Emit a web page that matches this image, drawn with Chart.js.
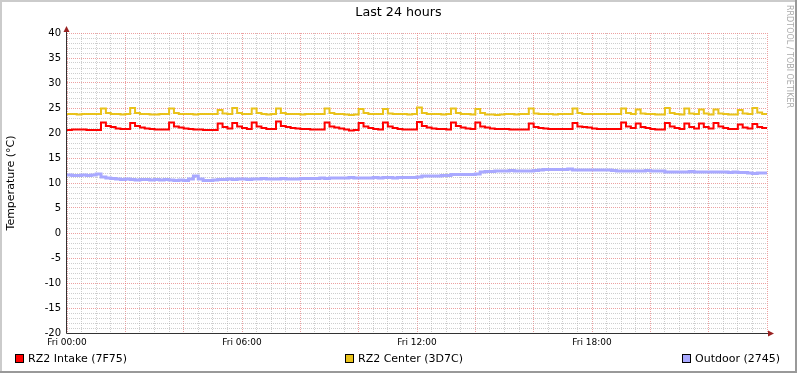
<!DOCTYPE html>
<html>
<head>
<meta charset="utf-8">
<script src="https://cdn.jsdelivr.net/npm/chart.js@4"></script>
<style>
  html, body { margin: 0; padding: 0; background: #fff; }
</style>
</head>
<body>
<canvas id="chart" width="797" height="373"></canvas>
<script>
// 10 minute samples, Fri 00:00 .. Sat 00:00
const red = [
  20.6, 20.7, 20.7, 20.7, 20.6, 20.6, 20.6,
  22.1, 21.4, 21.2, 20.9, 20.8, 20.8,
  22.0, 21.4, 21.1, 20.9, 20.8, 20.7, 20.7, 20.7,
  22.1, 21.3, 21.1, 20.9, 20.8, 20.7, 20.7, 20.6, 20.6, 20.6,
  21.9, 21.2, 20.9,
  22.0, 21.3, 21.0, 20.8,
  22.1, 21.3, 21.0, 20.8, 20.8,
  22.3, 21.4, 21.2, 21.0, 20.9, 20.8, 20.8, 20.7, 20.7, 20.7,
  22.1, 21.3, 21.1, 20.9, 20.7, 20.5, 20.6,
  22.0, 21.3, 21.0, 20.8, 20.7,
  22.1, 21.3, 21.0, 20.8, 20.7, 20.7, 20.7,
  22.2, 21.4, 21.1, 20.9, 20.8, 20.8, 20.7,
  22.1, 21.4, 21.1, 20.9, 20.8,
  22.1, 21.3, 21.1, 20.9, 20.8, 20.8, 20.8, 20.7, 20.7, 20.7, 20.7,
  21.9, 21.2, 21.0, 20.9, 20.8, 20.8, 20.8, 20.8, 20.8,
  22.0, 21.3, 21.2, 21.1, 20.9, 20.8, 20.8, 20.8, 20.8, 20.8,
  22.1, 21.3, 21.0,
  21.9, 21.2, 21.0, 20.8, 20.7, 20.7,
  22.0, 21.3, 21.0, 20.8,
  21.9, 21.2, 20.9,
  21.9, 21.2, 20.9,
  22.0, 21.3, 21.0, 20.8, 20.8,
  21.7, 21.1, 20.9,
  21.8, 21.2, 21.0, 20.8
];
const yellow = [
  23.8, 23.8, 23.7, 23.8, 23.8, 23.8, 23.8,
  24.9, 24.0, 23.8, 23.8, 23.7, 23.8,
  25.0, 24.0, 23.8, 23.8, 23.7, 23.7, 23.8, 23.8,
  24.9, 24.0, 23.8, 23.8, 23.8, 23.7, 23.8, 23.8, 23.8, 23.8,
  24.6, 23.9, 23.8,
  25.0, 24.0, 23.8, 23.8,
  24.9, 24.0, 23.8, 23.7, 23.8,
  24.9, 24.0, 23.8, 23.8, 23.8, 23.7, 23.8, 23.8, 23.8, 23.8,
  24.9, 24.0, 23.8, 23.8, 23.7, 23.6, 23.7,
  24.8, 24.0, 23.8, 23.8, 23.8,
  24.8, 23.9, 23.8, 23.8, 23.8, 23.7, 23.8,
  25.1, 24.0, 23.8, 23.8, 23.8, 23.7, 23.8,
  24.9, 24.0, 23.8, 23.8, 23.7,
  24.8, 24.0, 23.7, 23.7, 23.6, 23.7, 23.8, 23.8, 23.7, 23.8, 23.8,
  24.9, 23.9, 23.8, 23.8, 23.8, 23.7, 23.8, 23.8, 23.8,
  24.9, 24.0, 23.8, 23.8, 23.8, 23.8, 23.8, 23.8, 23.8, 23.8,
  24.9, 24.0, 23.8,
  24.7, 23.9, 23.8, 23.8, 23.7, 23.7,
  25.0, 24.0, 23.8, 23.7,
  24.9, 23.9, 23.8,
  24.7, 23.9, 23.7,
  24.7, 23.9, 23.8, 23.7, 23.7,
  24.6, 23.9, 23.8,
  25.0, 24.1, 23.8, 23.7
];
const outdoor = [
  11.6, 11.5, 11.5, 11.6, 11.5, 11.6,
  11.8,
  11.2, 11.0, 10.9, 10.8,
  10.7, 10.8, 10.7, 10.6, 10.7, 10.7, 10.6, 10.7, 10.6, 10.7, 10.6, 10.5, 10.6, 10.5,
  10.8, 11.4, 10.8, 10.5, 10.5, 10.6,
  10.7, 10.7, 10.8, 10.7, 10.8, 10.8, 10.7, 10.8, 10.8, 10.9, 10.8, 10.8, 10.8, 10.9, 10.8, 10.8, 10.8, 10.9, 10.9,
  10.9, 10.9, 11.0, 10.9, 11.0, 11.0, 11.0, 11.0, 11.1, 11.0, 11.0, 11.0, 11.0, 11.1, 11.0, 11.1, 11.1, 11.0, 11.1, 11.1, 11.1, 11.1, 11.2,
  11.4, 11.4, 11.4, 11.4, 11.5, 11.5,
  11.7, 11.7, 11.7, 11.7, 11.7, 11.8,
  12.2, 12.3, 12.3,
  12.4, 12.4, 12.4, 12.5, 12.4, 12.4, 12.4, 12.4, 12.5,
  12.6, 12.7, 12.7, 12.7, 12.7, 12.7,
  12.8,
  12.6, 12.6, 12.6, 12.6, 12.6, 12.6, 12.6, 12.6, 12.5,
  12.4, 12.4, 12.4, 12.4, 12.4, 12.4, 12.5, 12.4, 12.4, 12.4,
  12.2, 12.2, 12.2, 12.2, 12.2, 12.3, 12.2, 12.2, 12.2, 12.2, 12.2, 12.2, 12.2, 12.1, 12.2, 12.1, 12.1,
  12.0, 11.9, 12.0, 12.0, 12.0
];
const seriesNames = ['RZ2 Intake (7F75)', 'RZ2 Center (3D7C)', 'Outdoor (2745)'];
const xTickLabels = ['Fri 00:00', 'Fri 06:00', 'Fri 12:00', 'Fri 18:00'];

const minutes = red.map((_, i) => i * 10);
const pts = arr => arr.map((v, i) => ({ x: minutes[i], y: v }));

const FONT = '"DejaVu Sans", sans-serif';
const MINOR = 'rgba(165,165,165,0.55)';
const MAJOR = 'rgba(228,110,110,0.65)';

const legendX = [15, 345, 682];

const rrdFrame = {
  id: 'rrdFrame',
  beforeDraw(chart) {
    const ctx = chart.ctx;
    const w = chart.width, h = chart.height;
    ctx.save();
    ctx.fillStyle = '#fff';
    ctx.fillRect(0, 0, w, h);
    ctx.fillStyle = '#CBCBCB';
    ctx.fillRect(0, 0, w, 2);
    ctx.fillRect(0, 0, 2, h);
    ctx.fillStyle = '#999';
    ctx.fillRect(0, h - 2, w, 2);
    ctx.fillRect(w - 2, 0, 2, h);

    ctx.fillStyle = '#000';
    ctx.font = '12.7px ' + FONT;
    ctx.textAlign = 'center';
    ctx.textBaseline = 'middle';
    ctx.fillText('Last 24 hours', w / 2, 13);
    ctx.restore();
  },
  afterDraw(chart) {
    const ctx = chart.ctx;
    const a = chart.chartArea;
    ctx.save();
    // axes
    ctx.strokeStyle = '#333';
    ctx.lineWidth = 1;
    ctx.beginPath();
    ctx.moveTo(a.left - 0.5, a.bottom + 0.5);
    ctx.lineTo(a.right + 3, a.bottom + 0.5);
    ctx.moveTo(a.left - 0.5, a.bottom + 0.5);
    ctx.lineTo(a.left - 0.5, a.top - 3);
    ctx.stroke();
    ctx.fillStyle = '#992222';
    ctx.beginPath();
    ctx.moveTo(a.right + 7, a.bottom + 0.5);
    ctx.lineTo(a.right + 1, a.bottom - 2.5);
    ctx.lineTo(a.right + 1, a.bottom + 3.5);
    ctx.closePath();
    ctx.fill();
    ctx.beginPath();
    ctx.moveTo(a.left - 0.5, a.top - 7);
    ctx.lineTo(a.left - 3.5, a.top - 1);
    ctx.lineTo(a.left + 2.5, a.top - 1);
    ctx.closePath();
    ctx.fill();

    // legend
    ctx.font = '11px ' + FONT;
    ctx.textAlign = 'left';
    ctx.textBaseline = 'middle';
    chart.data.datasets.forEach((ds, i) => {
      const x = legendX[i];
      ctx.fillStyle = ds.borderColor;
      ctx.fillRect(x, 354, 9, 9);
      ctx.strokeStyle = '#000';
      ctx.strokeRect(x + 0.5, 354.5, 8, 8);
      ctx.fillStyle = '#000';
      ctx.fillText(ds.label, x + 13, 359);
    });

    // watermark
    ctx.translate(789, 5);
    ctx.rotate(Math.PI / 2);
    ctx.font = '8px ' + FONT;
    ctx.fillStyle = '#aaa';
    ctx.fillText('RRDTOOL / TOBI OETIKER', 0, 0);
    ctx.restore();
  }
};

new Chart(document.getElementById('chart'), {
  type: 'line',
  data: {
    datasets: [
      { label: seriesNames[0], data: pts(red), borderColor: '#FF0000', borderWidth: 2 },
      { label: seriesNames[1], data: pts(yellow), borderColor: '#E9C21A', borderWidth: 2 },
      { label: seriesNames[2], data: pts(outdoor), borderColor: '#A9A9FF', borderWidth: 3 }
    ]
  },
  options: {
    responsive: false,
    animation: false,
    layout: { padding: { top: 33, right: 30, left: 0, bottom: 0 } },
    elements: {
      point: { radius: 0 },
      line: { stepped: true, tension: 0, borderJoinStyle: 'miter' }
    },
    scales: {
      x: {
        type: 'linear',
        min: 0,
        max: 1440,
        afterFit: s => { s.height = 40; },
        border: { display: false, dash: [1, 1] },
        grid: {
          drawTicks: false,
          color: c => (c.tick.value % 120 === 0 ? MAJOR : MINOR)
        },
        ticks: {
          stepSize: 30,
          autoSkip: false,
          maxRotation: 0,
          padding: 4,
          color: '#000',
          font: { family: FONT, size: 9 },
          callback: v => (v % 360 === 0 && v < 1440 ? xTickLabels[v / 360] : '')
        }
      },
      y: {
        min: -20,
        max: 40,
        afterFit: s => { s.width = 67; },
        border: { display: false, dash: [1, 1] },
        grid: {
          drawTicks: false,
          color: c => (c.tick.value % 5 === 0 ? MAJOR : MINOR)
        },
        ticks: {
          stepSize: 1,
          autoSkip: false,
          padding: 6,
          color: '#000',
          font: { family: FONT, size: 10 },
          callback: v => (v % 5 === 0 ? String(v) : '')
        },
        title: {
          display: true,
          text: 'Temperature (°C)',
          color: '#000',
          font: { family: FONT, size: 11 },
          padding: { top: 5, bottom: 0 }
        }
      }
    },
    plugins: {
      legend: { display: false },
      tooltip: { enabled: false }
    }
  },
  plugins: [rrdFrame]
});
</script>
</body>
</html>
